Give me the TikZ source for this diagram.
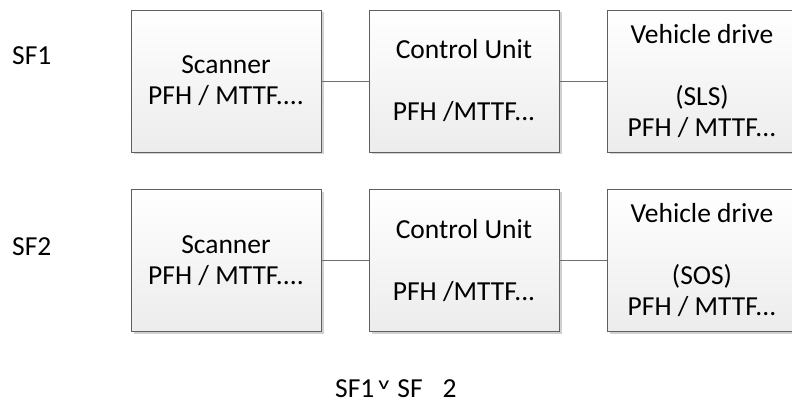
\documentclass[tikz,border=0pt]{standalone}
\usepackage{fontspec}
\setmainfont{Carlito}
\usepackage{xcolor}
\usetikzlibrary{shadows}

\begin{document}
\begin{tikzpicture}
		[x=1pt,y=-1pt,line cap=round,
		%Styles
		unit node/.style={rectangle,draw=boxline,line width=0.9pt,
			minimum width=190pt,minimum height=142pt,inner sep=0pt,
			top color=white,bottom color=boxfill,align=center,
			font=\fontsize{27.5}{31}\selectfont,
			drop shadow={shadow xshift=2.5pt,shadow yshift=-2.5pt,fill=black!18,opacity=1}},
		sf label/.style={anchor=base west,inner sep=0pt,font=\fontsize{27.5}{31}\selectfont},
		link/.style={draw=linkcolor,line width=0.9pt}
		]
		
		%Colors
		\definecolor{boxline}{RGB}{95,95,95}	%box borders
		\definecolor{boxfill}{RGB}{236,236,236}
		\definecolor{linkcolor}{RGB}{110,110,110}
		
		\useasboundingbox (0,0) rectangle (792,403);
		\clip (0,0) rectangle (792,403);
		
		%The graphic
		\node[unit node] (s1) at (226, 81) {Scanner\\PFH / MTTF....};
		\node[unit node] (c1) at (464, 81) {Control Unit\\\mbox{}\\PFH /MTTF...};
		\node[unit node] (d1) at (702, 81) {Vehicle drive\\\mbox{}\\(SLS)\\PFH / MTTF...};
		
		\node[unit node] (s2) at (226, 260.5) {Scanner\\PFH / MTTF....};
		\node[unit node] (c2) at (464, 260.5) {Control Unit\\\mbox{}\\PFH /MTTF...};
		\node[unit node] (d2) at (702, 260.5) {Vehicle drive\\\mbox{}\\(SOS)\\PFH / MTTF...};
		
		\path[link]
			(s1) edge (c1)
			(c1) edge (d1)
			(s2) edge (c2)
			(c2) edge (d2);
			
		\node[sf label] (sf1) at (12, 65) {SF1};
		\node[sf label] (sf2) at (12, 255) {SF2};
		\node[sf label] (both) at (335, 397) {SF1\hspace{4pt}\raisebox{8pt}{\scalebox{1.35}[1.0]{\fontsize{18}{18}\selectfont v}}\hspace{8pt}SF\hspace{20pt}2};
	\end{tikzpicture}
\end{document}
